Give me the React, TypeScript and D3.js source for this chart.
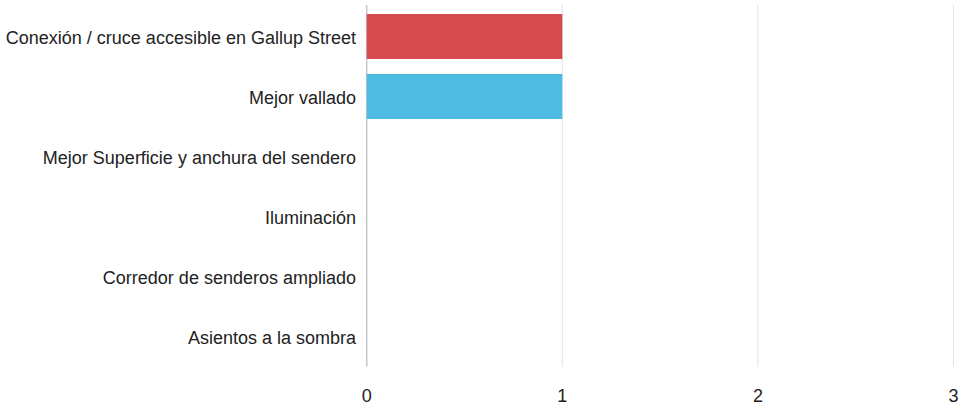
import React from "react";
import * as d3 from "d3";

const categories = [
  "Conexión / cruce accesible en Gallup Street",
  "Mejor vallado",
  "Mejor Superficie y anchura del sendero",
  "Iluminación",
  "Corredor de senderos ampliado",
  "Asientos a la sombra",
];
const values = [1, 1, 0, 0, 0, 0];
const barColors = ["#D64B4F", "#4EBBE2", "#8CC152", "#F6BB42", "#967ADC", "#AAB2BD"];
const xTicks = [0, 1, 2, 3];

const W = 961;
const H = 407;
const left = 366.7;
const right = 953.5;
const top = 6.5;
const bottom = 366.5;

export default function App() {
  const x = d3.scaleLinear().domain([0, 3]).range([left, right]);
  const y = d3.scaleBand<string>().domain(categories).range([top, bottom]).paddingInner(0.25).paddingOuter(0.125);
  const font = "'Liberation Sans', Arial, sans-serif";
  return (
    <svg width={W} height={H} style={{ position: "absolute", left: 0, top: 0, background: "#fff" }}>
      {xTicks.map((t) => (
        <line key={"g" + t} x1={x(t)} x2={x(t)} y1={5} y2={366.7}
          stroke={t === 0 ? "#c8c8c8" : "#e2e2e2"} strokeWidth={t === 0 ? 1.5 : 1} />
      ))}
      {categories.map((c, i) => (
        <rect key={c} x={x(0)} y={y(c)} width={x(values[i]) - x(0)} height={y.bandwidth()} fill={barColors[i]} />
      ))}
      {categories.map((c) => (
        <text key={"l" + c} x={356} y={(y(c) as number) + y.bandwidth() / 2 + 7}
          textAnchor="end" fontFamily={font} fontSize={18} fill="#222">{c}</text>
      ))}
      {xTicks.map((t) => (
        <text key={"t" + t} x={x(t)} y={401.5} textAnchor="middle" fontFamily={font} fontSize={18} fill="#222">{t}</text>
      ))}
    </svg>
  );
}
